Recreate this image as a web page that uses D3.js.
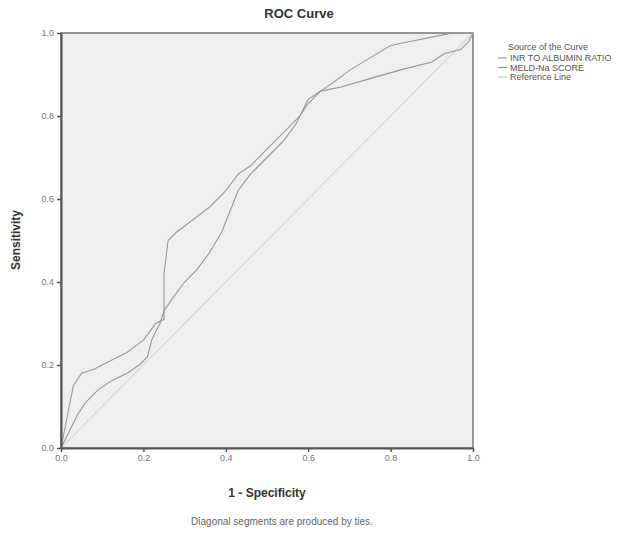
<!DOCTYPE html>
<html><head><meta charset="utf-8">
<script src="https://cdn.jsdelivr.net/npm/d3@7"></script>
<style>body{margin:0;background:#fff}svg{display:block}</style>
</head><body>
<script>
const xTicks = [0.0, 0.2, 0.4, 0.6, 0.8, 1.0];
const yTicks = [0.0, 0.2, 0.4, 0.6, 0.8, 1.0];
const seriesNames = ["INR TO ALBUMIN RATIO", "MELD-Na SCORE", "Reference Line"];
const inrFpr = [0,0.01,0.02,0.03,0.05,0.08,0.12,0.16,0.2,0.23,0.25,0.25,0.26,0.28,0.32,0.36,0.4,0.43,0.46,0.5,0.54,0.58,0.6,0.63,0.66,0.7,0.75,0.8,0.85,0.9,0.95,1];
const inrTpr = [0,0.05,0.1,0.15,0.18,0.19,0.21,0.23,0.26,0.3,0.31,0.42,0.5,0.52,0.55,0.58,0.62,0.66,0.68,0.72,0.76,0.8,0.83,0.86,0.88,0.91,0.94,0.97,0.98,0.99,1.0,1];
const meldFpr = [0,0.02,0.04,0.06,0.09,0.12,0.16,0.19,0.21,0.22,0.24,0.25,0.27,0.3,0.33,0.36,0.39,0.41,0.43,0.46,0.5,0.54,0.57,0.6,0.63,0.68,0.75,0.82,0.9,0.93,0.97,0.99,1];
const meldTpr = [0,0.04,0.08,0.11,0.14,0.16,0.18,0.2,0.22,0.26,0.3,0.33,0.36,0.4,0.43,0.47,0.52,0.57,0.62,0.66,0.7,0.74,0.78,0.84,0.86,0.87,0.89,0.91,0.93,0.95,0.96,0.98,1];
const refX = [0, 1];
const refY = [0, 1];

(function () {
const W = 644, H = 534;
const svg = d3.select("body").append("svg").attr("width", W).attr("height", H);
const pl = 61, pr = 473, pt = 33, pb = 448;
const x = d3.scaleLinear().domain([0,1]).range([pl, pr]);
const y = d3.scaleLinear().domain([0,1]).range([pb, pt]);

svg.append("rect").attr("x", pl).attr("y", pt).attr("width", pr-pl).attr("height", pb-pt).attr("fill", "#efefef");
svg.append("rect").attr("x", pl).attr("y", pt).attr("width", pr-pl).attr("height", pb-pt)
  .attr("fill", "none").attr("stroke", "#777").attr("stroke-width", 1.5);

const line = d3.line().x(d => x(d[0])).y(d => y(d[1]));
svg.append("path").datum(d3.zip(refX, refY)).attr("d", line).attr("fill","none").attr("stroke","#d8d8d8").attr("stroke-width",1.2);
svg.append("path").datum(d3.zip(meldFpr, meldTpr)).attr("d", line).attr("fill","none").attr("stroke","#8d9c94").attr("stroke-width",1.1);
svg.append("path").datum(d3.zip(inrFpr, inrTpr)).attr("d", line).attr("fill","none").attr("stroke","#999").attr("stroke-width",1.1);

const fmt = d3.format(".1f");
const xa = svg.append("g").attr("transform", `translate(0,${pb})`).call(d3.axisBottom(x).tickValues(xTicks).tickFormat(fmt).tickSize(4).tickSizeOuter(0));
const ya = svg.append("g").attr("transform", `translate(${pl},0)`).call(d3.axisLeft(y).tickValues(yTicks).tickFormat(fmt).tickSize(4).tickSizeOuter(0));
[xa, ya].forEach(a => {
  a.select(".domain").attr("stroke", "#555").attr("stroke-width", 2);
  a.selectAll(".tick line").attr("stroke", "#555").attr("stroke-width", 1.5);
  a.selectAll("text").attr("fill", "#777").style("font-family", "Arial, 'Liberation Sans', sans-serif").style("font-size", "9px");
});

svg.append("text").attr("x", 299).attr("y", 18).attr("text-anchor","middle")
  .style("font-family","Arial, 'Liberation Sans', sans-serif").style("font-weight","bold").style("font-size","13px").attr("fill","#333").text("ROC Curve");
svg.append("text").attr("x", 267).attr("y", 497).attr("text-anchor","middle")
  .style("font-family","Arial, 'Liberation Sans', sans-serif").style("font-weight","bold").style("font-size","12px").attr("fill","#333").text("1 - Specificity");
svg.append("text").attr("transform","translate(20,240) rotate(-90)").attr("text-anchor","middle")
  .style("font-family","Arial, 'Liberation Sans', sans-serif").style("font-weight","bold").style("font-size","12px").attr("fill","#333").text("Sensitivity");
svg.append("text").attr("x", 282).attr("y", 525).attr("text-anchor","middle")
  .style("font-family","Arial, 'Liberation Sans', sans-serif").style("font-size","10px").attr("fill","#666").text("Diagonal segments are produced by ties.");

const lg = svg.append("g").style("font-family","Arial, 'Liberation Sans', sans-serif").style("font-size","9px").attr("fill","#555");
lg.append("text").attr("x", 508).attr("y", 50).text("Source of the Curve");
const colors = ["#999", "#8d9c94", "#c8c8c8"];
seriesNames.forEach((n, i) => {
  const yy = 61 + i * 9.5;
  lg.append("line").attr("x1", 498).attr("x2", 507).attr("y1", yy - 3).attr("y2", yy - 3).attr("stroke", colors[i]).attr("stroke-width", 1.2);
  lg.append("text").attr("x", 510).attr("y", yy).text(n);
});
})();
</script>
</body></html>
